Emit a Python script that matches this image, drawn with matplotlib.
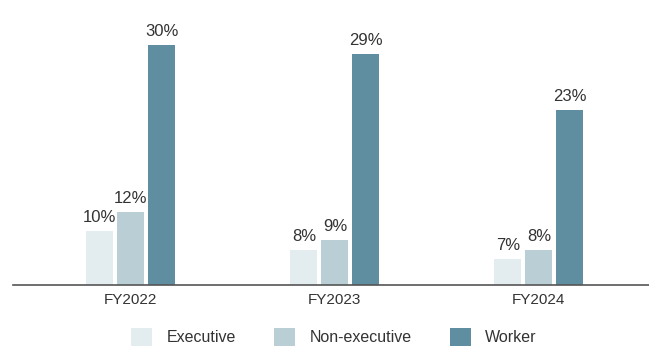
import numpy as np
import matplotlib
matplotlib.use('Agg')
from matplotlib import pyplot as plt
from matplotlib.patches import Patch

plt.rcParams['font.family'] = ['Liberation Sans', 'DejaVu Sans']

# Data
years = ['FY2022', 'FY2023', 'FY2024']
executive = [10, 8, 7]
non_executive = [12, 9, 8]
worker = [30, 29, 23]
series_names = ['Executive', 'Non-executive', 'Worker']
colors = ['#e3ecee', '#b9cfd5', '#5f8ea0']
text_color = '#333333'

fig = plt.figure(figsize=(6.49, 3.5), dpi=100)
ax = fig.add_axes([13 / 649, 1 - 285 / 350, 636 / 649, 265 / 350])

x = np.arange(len(years))
width = 0.132
step = 0.152
for i, (vals, col) in enumerate(zip([executive, non_executive, worker], colors)):
    pos = x + (i - 1) * step
    ax.bar(pos, vals, width, color=col, zorder=2)
    for p, v in zip(pos, vals):
        ax.text(p, v + 0.65, '%d%%' % v, ha='center', va='bottom',
                fontsize=12, color=text_color)

ax.set_xlim(-0.578, 2.54)
ax.set_ylim(4.2, 32.7)
for s in ['top', 'right', 'left']:
    ax.spines[s].set_visible(False)
ax.spines['bottom'].set_color('#555555')
ax.spines['bottom'].set_linewidth(1.2)
ax.set_yticks([])
ax.set_xticks(x)
ax.set_xticklabels(years, fontsize=11, color=text_color)
ax.tick_params(axis='x', length=0, pad=6)

handles = [Patch(facecolor=c, edgecolor='none') for c in colors]
fig.legend(handles, series_names, loc='center', bbox_to_anchor=(334 / 649, 1 - 337 / 350),
           ncol=3, frameon=False, fontsize=11.5, handlelength=1.3, handleheight=1.3,
           columnspacing=2.4, handletextpad=0.9, labelcolor=text_color)

fig.savefig('out.png', dpi=100)
